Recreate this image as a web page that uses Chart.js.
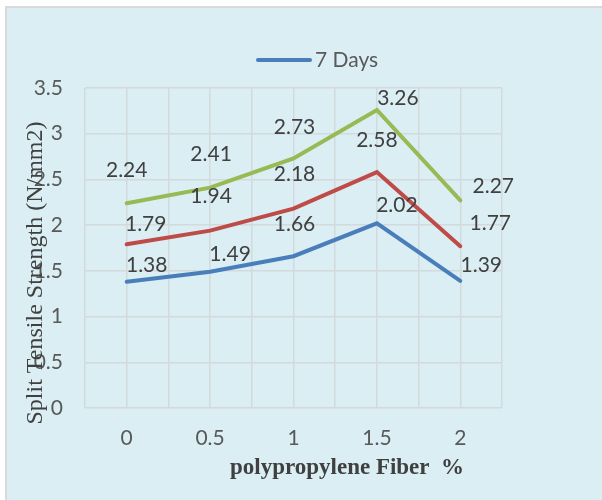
<!DOCTYPE html>
<html>
<head>
<meta charset="utf-8">
<script src="https://cdn.jsdelivr.net/npm/chart.js@4.4.1/dist/chart.umd.min.js"></script>
<style>
  html, body { margin: 0; padding: 0; background: #ffffff; }
  #wrap { position: relative; width: 602px; height: 500px; }
</style>
</head>
<body>
<div id="wrap"><canvas id="chart" width="602" height="500"></canvas></div>
<script>
// Fiber dosage (%) and split tensile strength (N/mm2) per curing age
const fiberPercent = [0, 0.5, 1, 1.5, 2];
const strength7 = [1.38, 1.49, 1.66, 2.02, 1.39];
const strength14 = [1.79, 1.94, 2.18, 2.58, 1.77];
const strength28 = [2.24, 2.41, 2.73, 3.26, 2.27];
const seriesNames = ['7 Days', '14 Days', '28 Days'];
const yTickValues = [0, 0.5, 1, 1.5, 2, 2.5, 3, 3.5];

const seriesColors = ['#4a7ebb', '#be4b48', '#98b954'];
const LABEL_FONT = '21px Lato, "Open Sans", sans-serif';

// Value label placement relative to each point: [dx, dy] of the label centre
const labelPlacement = [
  [[20, -17], [20, -18], [1, -32], [20, -18], [21, -16]],
  [[19, -20], [1, -34], [1, -34], [0, -32], [30, -23]],
  [[0, -33], [1, -33], [1, -31], [21, -12], [33, -14]]
];

function toPoints(values) {
  return values.map((v, i) => ({ x: fiberPercent[i], y: v }));
}

const datasets = [strength7, strength14, strength28].map((vals, i) => ({
  label: seriesNames[i],
  data: toPoints(vals),
  borderColor: seriesColors[i],
  backgroundColor: seriesColors[i],
  borderWidth: 4,
  borderCapStyle: 'round',
  pointRadius: 0,
  pointHoverRadius: 0,
  tension: 0
}));

// Panel background with thin frame
const panelPlugin = {
  id: 'panel',
  beforeDraw(chart) {
    const ctx = chart.ctx;
    ctx.save();
    ctx.fillStyle = '#ffffff';
    ctx.fillRect(0, 0, chart.width, chart.height);
    ctx.fillStyle = '#daeef3';
    ctx.fillRect(6, 7, chart.width, chart.height);
    ctx.strokeStyle = '#d9d9d9';
    ctx.lineWidth = 2;
    ctx.strokeRect(6, 7, chart.width + 20, chart.height + 20);
    ctx.restore();
  }
};

// Legend entry for the first series only
const legendPlugin = {
  id: 'singleLegend',
  afterDraw(chart) {
    const ctx = chart.ctx;
    const ds = chart.data.datasets[0];
    ctx.save();
    ctx.strokeStyle = ds.borderColor;
    ctx.lineWidth = 4;
    ctx.lineCap = 'round';
    ctx.beginPath();
    ctx.moveTo(258, 60);
    ctx.lineTo(310, 60);
    ctx.stroke();
    ctx.fillStyle = '#595959';
    ctx.font = LABEL_FONT;
    ctx.textAlign = 'left';
    ctx.textBaseline = 'middle';
    ctx.fillText(ds.label, 315, 60);
    ctx.restore();
  }
};

// Value labels next to every point
const valueLabelPlugin = {
  id: 'valueLabels',
  afterDatasetsDraw(chart) {
    const ctx = chart.ctx;
    ctx.save();
    ctx.font = LABEL_FONT;
    ctx.fillStyle = '#404040';
    ctx.textAlign = 'center';
    ctx.textBaseline = 'middle';
    chart.data.datasets.forEach((ds, di) => {
      const meta = chart.getDatasetMeta(di);
      meta.data.forEach((pt, i) => {
        const [dx, dy] = labelPlacement[di][i];
        ctx.fillText(ds.data[i].y.toFixed(2), pt.x + dx, pt.y + dy);
      });
    });
    ctx.restore();
  }
};

// Axis titles
const axisTitlePlugin = {
  id: 'axisTitles',
  afterDraw(chart) {
    const ctx = chart.ctx;
    ctx.save();
    ctx.fillStyle = '#404040';
    ctx.textAlign = 'center';
    ctx.textBaseline = 'middle';
    ctx.font = 'bold 23px "Liberation Serif", "Times New Roman", serif';
    ctx.fillText('polypropylene Fiber  %', 347, 468);
    ctx.translate(36, 273);
    ctx.rotate(-Math.PI / 2);
    ctx.font = '24px "Liberation Serif", "Times New Roman", serif';
    ctx.fillText('Split Tensile Strength (N/mm2)', 0, 0);
    ctx.restore();
  }
};

const gridColor = '#d4d9db';

new Chart(document.getElementById('chart'), {
  type: 'line',
  data: { datasets },
  plugins: [panelPlugin, valueLabelPlugin, legendPlugin, axisTitlePlugin],
  options: {
    responsive: false,
    animation: false,
    layout: { padding: { top: 88, right: 100, bottom: 0, left: 0 } },
    plugins: {
      legend: { display: false },
      tooltip: { enabled: false }
    },
    scales: {
      x: {
        type: 'linear',
        min: fiberPercent[0] - 0.25,
        max: fiberPercent[fiberPercent.length - 1] + 0.25,
        afterBuildTicks(scale) {
          const ticks = [];
          for (let v = scale.min; v <= scale.max + 1e-9; v += 0.25) {
            ticks.push({ value: Math.round(v * 100) / 100 });
          }
          scale.ticks = ticks;
        },
        afterFit(scale) { scale.height = 92; },
        grid: { color: gridColor, lineWidth: 1.5, drawTicks: false },
        border: { display: false },
        ticks: {
          autoSkip: false,
          maxRotation: 0,
          minRotation: 0,
          padding: 18,
          color: '#595959',
          font: { family: 'Lato, "Open Sans", sans-serif', size: 21 },
          callback(value) {
            return fiberPercent.includes(value) ? String(value) : '';
          }
        }
      },
      y: {
        min: 0,
        max: 3.5,
        afterBuildTicks(scale) {
          scale.ticks = yTickValues.map(v => ({ value: v }));
        },
        afterFit(scale) { scale.width = 85; },
        grid: { color: gridColor, lineWidth: 1.5, drawTicks: false },
        border: { display: false },
        ticks: {
          padding: 22,
          color: '#595959',
          font: { family: 'Lato, "Open Sans", sans-serif', size: 21 },
          callback(value) { return String(value); }
        }
      }
    }
  }
});
</script>
</body>
</html>
